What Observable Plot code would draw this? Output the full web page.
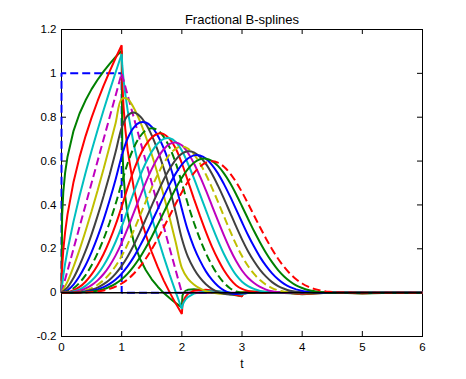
<!DOCTYPE html>
<html><head><meta charset="utf-8">
<script src="https://cdn.jsdelivr.net/npm/d3@7"></script>
<script src="https://cdn.jsdelivr.net/npm/@observablehq/plot@0.6"></script>
<style>body{margin:0;background:#fff}</style>
</head><body><div id="chart"></div>
<script>
const titleText = "Fractional B-splines";
const xLabel = "t";
const xTicks = [0, 1, 2, 3, 4, 5, 6];
const yTicks = [-0.2, 0, 0.2, 0.4, 0.6, 0.8, 1, 1.2];

// sample positions
const tBox = [0, 0, 1, 1, 6];
const tHat = [0, 1, 2, 6];
const tFine = [0,0.01,0.03,0.06,0.1,0.2,0.3,0.4,0.5,0.6,0.7,0.8,0.9,1,1.01,1.03,1.06,1.1,1.2,1.3,1.4,1.5,1.6,1.7,1.8,1.9,2,2.01,2.03,2.06,2.1,2.2,2.4,2.6,2.8,3,3.01,3.03,3.1,3.2,3.4,3.6,3.8,4,4.5,5,5.5,6];
const tStep = [0,0.1,0.2,0.3,0.4,0.5,0.6,0.7,0.8,0.9,1,1.1,1.2,1.3,1.4,1.5,1.6,1.7,1.8,1.9,2,2.1,2.2,2.3,2.4,2.5,2.6,2.7,2.8,2.9,3,3.1,3.2,3.3,3.4,3.5,3.6,3.7,3.8,3.9,4,4.1,4.2,4.3,4.4,4.5,4.6,4.7,4.8,4.9,5,5.1,5.2,5.3,5.4,5.5,5.6,5.7,5.8,5.9,6];

// degree 0 and 1
const b000 = [0, 1, 1, 0, 0];
const b100 = [0, 1, 0, 0];
// degrees 0.25, 0.5, 0.75 on tFine
const b025 = [0,0.349,0.459,0.546,0.620,0.738,0.817,0.877,0.928,0.971,1.009,1.043,1.075,1.103,0.670,0.538,0.437,0.354,0.232,0.157,0.103,0.061,0.027,-0.002,-0.026,-0.048,-0.067,-0.014,-0.001,0.008,0.013,0.016,0.010,0.002,-0.007,-0.016,-0.002,0.001,0.005,0.005,0.003,0.000,-0.003,-0.007,0.001,-0.004,0.000,-0.002];
const b050 = [0,0.113,0.195,0.276,0.357,0.505,0.618,0.714,0.798,0.874,0.944,1.009,1.070,1.128,0.965,0.852,0.747,0.648,0.479,0.359,0.265,0.185,0.116,0.055,0.000,-0.050,-0.097,-0.059,-0.037,-0.019,-0.006,0.009,0.013,0.006,-0.004,-0.016,-0.010,-0.006,0.000,0.003,0.004,0.002,-0.002,-0.006,0.001,-0.003,0.001,-0.002];
const b075 = [0,0.034,0.078,0.132,0.193,0.325,0.441,0.547,0.647,0.742,0.833,0.920,1.005,1.088,1.036,0.975,0.906,0.830,0.678,0.553,0.443,0.343,0.250,0.163,0.080,0.001,-0.074,-0.059,-0.045,-0.032,-0.020,-0.004,0.006,0.006,0.000,-0.008,-0.007,-0.005,-0.002,0.000,0.002,0.001,0.000,-0.003,0.001,-0.001,0.000,-0.001];
// degrees 1.25 ... 4 on tStep
const b125 = [0,0.050,0.118,0.196,0.281,0.371,0.466,0.565,0.668,0.774,0.883,0.883,0.843,0.784,0.712,0.630,0.540,0.442,0.338,0.228,0.113,0.064,0.037,0.019,0.007,0.000,-0.004,-0.005,-0.005,-0.002,0.003,0.003,0.002,0.001,0.000,-0.001,0,0,0,0,0,0,0,0,0,0,0,0,0,0,0,0,0,0,0,0,0,0,0,0,0];
const b150 = [0,0.024,0.067,0.124,0.190,0.266,0.350,0.441,0.538,0.642,0.752,0.808,0.821,0.806,0.770,0.717,0.648,0.566,0.471,0.364,0.247,0.164,0.109,0.068,0.038,0.017,0.003,-0.005,-0.008,-0.006,0.000,0.003,0.002,0.002,0.001,0.000,0,0,0,0,0,0,0,0,0,0,0,0,0,0,0,0,0,0,0,0,0,0,0,0,0];
const b175 = [0,0.011,0.037,0.076,0.125,0.185,0.254,0.333,0.421,0.517,0.622,0.704,0.753,0.776,0.776,0.756,0.716,0.658,0.582,0.490,0.382,0.284,0.208,0.147,0.097,0.059,0.030,0.010,-0.002,-0.006,-0.003,0.000,0.001,0.001,0.001,0.000,0,0,0,0,0,0,0,0,0,0,0,0,0,0,0,0,0,0,0,0,0,0,0,0,0];
const b200 = [0,0.005,0.02,0.045,0.08,0.125,0.18,0.245,0.32,0.405,0.5,0.59,0.66,0.71,0.74,0.75,0.74,0.71,0.66,0.59,0.5,0.405,0.32,0.245,0.18,0.125,0.08,0.045,0.02,0.005,0,0,0,0,0,0,0,0,0,0,0,0,0,0,0,0,0,0,0,0,0,0,0,0,0,0,0,0,0,0,0];
const b225 = [0,0.002,0.011,0.026,0.050,0.083,0.125,0.176,0.238,0.310,0.392,0.479,0.557,0.623,0.674,0.708,0.725,0.723,0.700,0.656,0.590,0.510,0.429,0.351,0.277,0.210,0.152,0.102,0.063,0.034,0.017,0.008,0.003,0.001,-0.001,-0.001,-0.001,0.000,0,0,0,0,0,0,0,0,0,0,0,0,0,0,0,0,0,0,0,0,0,0,0];
const b250 = [0,0.001,0.006,0.015,0.031,0.054,0.084,0.124,0.173,0.232,0.301,0.379,0.456,0.528,0.591,0.643,0.680,0.701,0.704,0.687,0.648,0.589,0.522,0.449,0.376,0.304,0.237,0.176,0.124,0.081,0.050,0.030,0.017,0.008,0.003,0.000,-0.001,-0.001,0.000,0,0,0,0,0,0,0,0,0,0,0,0,0,0,0,0,0,0,0,0,0,0];
const b275 = [0,0.000,0.003,0.009,0.019,0.034,0.056,0.085,0.123,0.170,0.227,0.293,0.364,0.434,0.502,0.563,0.615,0.654,0.678,0.685,0.672,0.638,0.590,0.531,0.466,0.397,0.328,0.261,0.199,0.145,0.101,0.068,0.044,0.026,0.014,0.006,0.002,0.000,-0.001,0.000,0,0,0,0,0,0,0,0,0,0,0,0,0,0,0,0,0,0,0,0,0];
const b300 = [0,0.0002,0.0013,0.0045,0.0107,0.0208,0.036,0.0572,0.0853,0.1215,0.1667,0.2212,0.2827,0.3482,0.4147,0.4792,0.5387,0.5902,0.6307,0.6572,0.6667,0.6572,0.6307,0.5902,0.5387,0.4792,0.4147,0.3482,0.2827,0.2212,0.1667,0.1215,0.0853,0.0572,0.036,0.0208,0.0107,0.0045,0.0013,0.0002,0,0,0,0,0,0,0,0,0,0,0,0,0,0,0,0,0,0,0,0,0];
const b325 = [0,0.000,0.001,0.003,0.006,0.013,0.023,0.039,0.059,0.087,0.122,0.165,0.216,0.274,0.335,0.397,0.458,0.516,0.566,0.607,0.634,0.645,0.640,0.620,0.587,0.542,0.488,0.429,0.366,0.303,0.243,0.189,0.143,0.104,0.073,0.048,0.030,0.018,0.009,0.004,0.002,0.001,0.000,0.000,0.000,0,0,0,0,0,0,0,0,0,0,0,0,0,0,0,0];
const b350 = [0,0.000,0.000,0.001,0.004,0.008,0.015,0.025,0.040,0.060,0.087,0.121,0.162,0.211,0.264,0.322,0.381,0.440,0.495,0.544,0.584,0.612,0.626,0.625,0.611,0.583,0.544,0.495,0.440,0.381,0.321,0.263,0.210,0.162,0.122,0.088,0.061,0.040,0.025,0.015,0.008,0.004,0.002,0.000,0.000,0.000,0,0,0,0,0,0,0,0,0,0,0,0,0,0,0];
const b375 = [0,0.000,0.000,0.001,0.002,0.005,0.009,0.016,0.027,0.041,0.061,0.087,0.120,0.159,0.205,0.255,0.310,0.366,0.422,0.476,0.524,0.563,0.592,0.608,0.611,0.601,0.578,0.544,0.501,0.450,0.394,0.337,0.281,0.229,0.181,0.139,0.103,0.074,0.051,0.033,0.021,0.012,0.007,0.003,0.001,0.000,0.000,0,0,0,0,0,0,0,0,0,0,0,0,0,0];
const b400 = [0,0.0000,0.0001,0.0003,0.0011,0.0026,0.0054,0.0100,0.0171,0.0273,0.0417,0.0610,0.0861,0.1173,0.1547,0.1979,0.2461,0.2980,0.3521,0.4063,0.4583,0.5054,0.5447,0.5744,0.5927,0.5990,0.5927,0.5744,0.5447,0.5054,0.4583,0.4063,0.3521,0.2980,0.2461,0.1979,0.1547,0.1173,0.0861,0.0610,0.0417,0.0273,0.0171,0.0100,0.0054,0.0026,0.0011,0.0003,0.0001,0.0000,0,0,0,0,0,0,0,0,0,0,0];

const C = {b:"#0000ff", g:"#008000", r:"#ff0000", c:"#00bfbf", m:"#bf00bf", y:"#bfbf00", k:"#404040"};
const series = [
  [tBox, b000, C.b, true, "linear"],
  [tFine, b025, C.g, false, "linear"],
  [tFine, b050, C.r, false, "linear"],
  [tFine, b075, C.c, false, "linear"],
  [tHat, b100, C.m, true, "linear"],
  [tStep, b125, C.y, false, "catmull-rom"],
  [tStep, b150, C.k, false, "catmull-rom"],
  [tStep, b175, C.b, false, "catmull-rom"],
  [tStep, b200, C.g, true, "catmull-rom"],
  [tStep, b225, C.r, false, "catmull-rom"],
  [tStep, b250, C.c, false, "catmull-rom"],
  [tStep, b275, C.m, false, "catmull-rom"],
  [tStep, b300, C.y, true, "catmull-rom"],
  [tStep, b325, C.k, false, "catmull-rom"],
  [tStep, b350, C.b, false, "catmull-rom"],
  [tStep, b375, C.g, false, "catmull-rom"],
  [tStep, b400, C.r, true, "catmull-rom"]
];

const lineMarks = series.map(([t, ys, color, dashed, curve]) =>
  Plot.line(ys.map((v, i) => ({x: t[i], y: v})).filter(d => d.x !== undefined), {
    x: "x", y: "y", stroke: color, strokeWidth: 2, curve,
    strokeDasharray: dashed ? "8,4" : null, strokeLinejoin: "miter", strokeLinecap: "butt"
  })
);

const frameH = 379 - 29 - 43;
const frameW = 466 - 61 - 44;
const fmt = d => String(d);

const chart = Plot.plot({
  width: 466, height: 379,
  marginLeft: 61, marginRight: 44, marginTop: 29, marginBottom: 43,
  x: {domain: [0, 6]},
  y: {domain: [-0.2, 1.2]},
  style: {fontFamily: "'Liberation Sans', Arial, sans-serif", fontSize: "11px", background: "white", color: "black"},
  marks: [
    Plot.frame({stroke: "black", strokeWidth: 1}),
    Plot.ruleX(xTicks, {x: d => d, insetTop: frameH - 5, stroke: "black"}),
    Plot.ruleX(xTicks, {x: d => d, insetBottom: frameH - 5, stroke: "black"}),
    Plot.ruleY(yTicks, {y: d => d, insetRight: frameW - 5, stroke: "black"}),
    Plot.ruleY(yTicks, {y: d => d, insetLeft: frameW - 5, stroke: "black"}),
    Plot.axisX(xTicks, {tickSize: 0, tickPadding: 6, tickFormat: fmt, label: null, fontSize: 11.5}),
    Plot.axisY(yTicks, {tickSize: 0, tickPadding: 5, tickFormat: fmt, label: null, fontSize: 11.5}),
    ...lineMarks,
    Plot.ruleY([0], {stroke: "black", strokeWidth: 1.5}),
    Plot.text([titleText], {frameAnchor: "top", dy: -15, fontSize: 13, fill: "black"}),
    Plot.text([xLabel], {frameAnchor: "bottom", dy: 31, fontSize: 12, fill: "black"})
  ]
});
document.getElementById("chart").appendChild(chart);
</script>
</body></html>
